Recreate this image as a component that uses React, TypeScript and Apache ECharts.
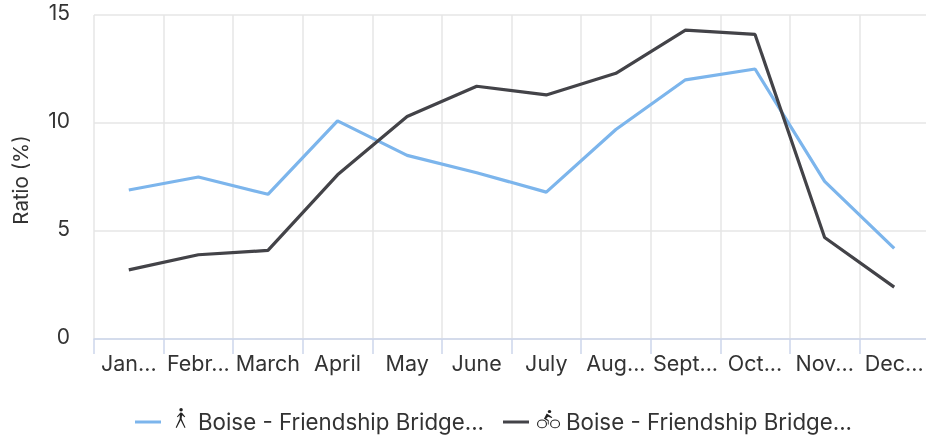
import React, { useEffect, useRef } from "react";
import * as echarts from "echarts";

const categories = ["Jan...", "Febr...", "March", "April", "May", "June", "July", "Aug...", "Sept...", "Oct...", "Nov...", "Dec..."];
const walkValues = [6.9, 7.5, 6.7, 10.1, 8.5, 7.7, 6.8, 9.7, 12.0, 12.5, 7.3, 4.2];
const bikeValues = [3.2, 3.9, 4.1, 7.6, 10.3, 11.7, 11.3, 12.3, 14.3, 14.1, 4.7, 2.4];
const legendLabel = "Boise - Friendship Bridge...";
const yTicks = [0, 5, 10, 15];
const FONT = "Inter";

const walkIcon = "M4.5 0a1.3 1.3 0 1 1 0 2.6a1.3 1.3 0 1 1 0-2.6M4 3.4L5.2 3.6L7.6 6.6L7.1 7L5.2 5.4L4.9 8.2L7.8 14.7L7.1 15L4.2 9.2L1.2 15L.5 14.7L3.4 8.2L3.6 5.2L1.9 7L1.4 6.6z";
const bikeIcon = "M9 0a1.3 1.3 0 1 1 0 2.6a1.3 1.3 0 1 1 0-2.6M7 3L9 4.4L11 6L10.6 6.6L8 5.6L6.6 7L8.4 8.6L8.4 12L7.8 12L7.8 9.2L5 7.2zM3.6 8a3.6 3.6 0 1 1 0 7.2a3.6 3.6 0 1 1 0-7.2M3.6 8.8a2.8 2.8 0 1 0 0 5.6a2.8 2.8 0 1 0 0-5.6M13 8a3.6 3.6 0 1 1 0 7.2a3.6 3.6 0 1 1 0-7.2M13 8.8a2.8 2.8 0 1 0 0 5.6a2.8 2.8 0 1 0 0-5.6";
echarts.graphic.registerShape("walkIcon", echarts.graphic.extendPath(walkIcon, {}) as any);
echarts.graphic.registerShape("bikeIcon", echarts.graphic.extendPath(bikeIcon, {}) as any);

export default function App() {
  const ref = useRef<HTMLDivElement>(null);
  useEffect(() => {
    const chart = echarts.init(ref.current!, undefined, { renderer: "svg" });
    const legendText = { fill: "#333333", fontFamily: FONT, fontSize: 22.3 };
    chart.setOption({
      animation: false,
      grid: { left: 94, top: 15, width: 835, height: 324, containLabel: false },
      xAxis: {
        type: "category",
        data: categories,
        boundaryGap: true,
        axisLine: { show: true, lineStyle: { color: "#ccd6eb", width: 1.5 } },
        axisTick: { show: true, alignWithLabel: false, length: 15, lineStyle: { color: "#ccd6eb", width: 1.5 } },
        splitLine: { show: true, lineStyle: { color: "#e6e6e6", width: 1.5 } },
        axisLabel: { color: "#333333", fontFamily: FONT, fontSize: 21.5, margin: 13, interval: 0 },
      },
      yAxis: {
        type: "value",
        min: 0,
        max: 15,
        interval: 5,
        name: "Ratio (%)",
        nameLocation: "middle",
        nameGap: 63,
        nameRotate: 90,
        nameTextStyle: { color: "#333333", fontFamily: FONT, fontSize: 20.5, padding: [0, 6, 0, 0] },
        axisLine: { show: false },
        axisTick: { show: false },
        splitLine: { show: true, lineStyle: { color: "#e6e6e6", width: 1.5 } },
        axisLabel: {
          color: "#333333", fontFamily: FONT, fontSize: 21, margin: 24,
          verticalAlign: "bottom", lineHeight: 6,
          formatter: (v: number) => (yTicks.includes(v) ? String(v) : ""),
        },
      },
      series: [
        { name: "walk", type: "line", data: walkValues, symbol: "none", smooth: false, lineStyle: { color: "#7cb5ec", width: 3.2 } },
        { name: "bike", type: "line", data: bikeValues, symbol: "none", smooth: false, lineStyle: { color: "#434348", width: 3.2 } },
      ],
      graphic: [
        { type: "line", shape: { x1: 135, y1: 422, x2: 161, y2: 422 }, style: { stroke: "#7cb5ec", lineWidth: 3 } },
        { type: "walkIcon", x: 175, y: 408, scaleX: 1.35, scaleY: 1.33, shape: { x: 0, y: 0, width: 9, height: 15 }, style: { fill: "#222" } },
        { type: "text", x: 198, y: 421, style: { text: legendLabel, ...legendText, verticalAlign: "middle", align: "left" } },
        { type: "line", shape: { x1: 503, y1: 422, x2: 529, y2: 422 }, style: { stroke: "#434348", lineWidth: 3 } },
        { type: "bikeIcon", x: 537, y: 410, scaleX: 1.39, scaleY: 1.2, shape: { x: 0, y: 0, width: 17, height: 15 }, style: { fill: "#222" } },
        { type: "text", x: 566, y: 421, style: { text: legendLabel, ...legendText, verticalAlign: "middle", align: "left" } },
      ],
    });
    return () => chart.dispose();
  }, []);
  return (
    <div style={{ position: "fixed", left: 0, top: 0, width: 926, height: 435, overflow: "hidden" }}>
      <div ref={ref} style={{ width: 940, height: 435 }} />
    </div>
  );
}
